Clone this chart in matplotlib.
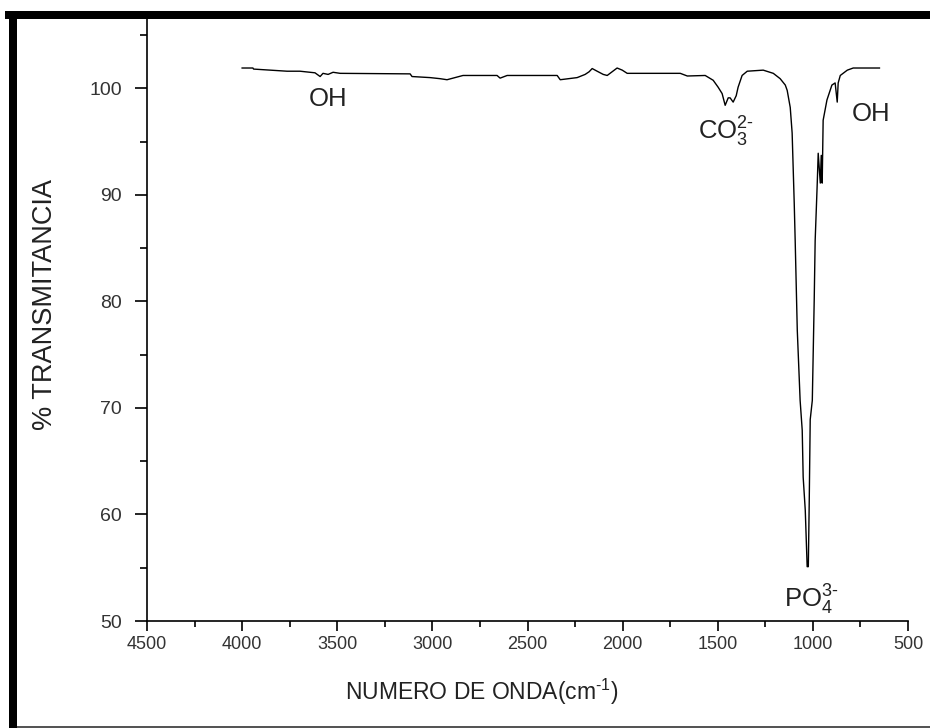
#importing libraries
import numpy as np
import matplotlib
matplotlib.use("Agg")
import matplotlib.pyplot as plt
from matplotlib.patches import Rectangle
from matplotlib.ticker import MultipleLocator

# spectrum (wavenumber cm-1, % transmittance)
wavenumber = [4000, 3943, 3940, 3764, 3696, 3617, 3590, 3575, 3548, 3522, 3485,
              3117, 3107, 3012, 2960, 2923, 2881, 2839, 2660, 2644, 2607, 2344,
              2328, 2239, 2197, 2176, 2160, 2134, 2102, 2081, 2055, 2029, 2002,
              1976, 1697, 1660, 1566, 1524, 1498, 1477, 1461, 1445, 1435, 1419,
              1403, 1393, 1372, 1345, 1261, 1208, 1172, 1145, 1135, 1119, 1109,
              1098, 1093, 1082, 1067, 1056, 1051, 1040, 1030, 1024, 1019, 1014,
              1003, 993, 988, 977, 972, 961, 956, 951, 946, 926, 900, 883, 872,
              867, 856, 819, 788, 650]
transmittance = [101.9, 101.9, 101.8, 101.6, 101.6, 101.45, 101.1, 101.4, 101.3, 101.5, 101.4,
                 101.35, 101.1, 101.0, 100.9, 100.8, 101.0, 101.2, 101.2, 100.95, 101.2, 101.2,
                 100.8, 101.0, 101.3, 101.55, 101.85, 101.6, 101.3, 101.2, 101.55, 101.9, 101.7,
                 101.4, 101.4, 101.15, 101.2, 100.75, 100.1, 99.5, 98.4, 99.1, 99.1, 98.7,
                 99.3, 100.1, 101.2, 101.6, 101.7, 101.4, 100.9, 100.3, 99.8, 98.2, 95.8,
                 89.2, 85.7, 77.3, 70.7, 67.9, 63.5, 60.4, 55.1, 55.1, 61.4, 68.9,
                 70.7, 80.1, 85.7, 91.1, 93.9, 91.1, 93.7, 91.1, 97.0, 98.9, 100.3, 100.5, 98.7,
                 100.5, 101.2, 101.7, 101.9, 101.9]

# band labels
band_text = ['OH', r'CO$_3^{2\text{-}}$', r'PO$_4^{3\text{-}}$', 'OH']
band_x = [3550, 1456, 1010, 693]
band_y = [99.0, 95.9, 52.0, 97.6]

xticks = [4500, 4000, 3500, 3000, 2500, 2000, 1500, 1000, 500]
yticks = [50, 60, 70, 80, 90, 100]

plt.rcParams['font.family'] = ['Liberation Sans', 'DejaVu Sans']
plt.rcParams['mathtext.fontset'] = 'custom'
plt.rcParams['mathtext.rm'] = 'Liberation Sans'
plt.rcParams['mathtext.it'] = 'Liberation Sans:italic'
plt.rcParams['mathtext.bf'] = 'Liberation Sans:bold'

fig = plt.figure(figsize=(9.3, 7.28), dpi=100)
ax = fig.add_axes([147/930, 1-621/728, (908-147)/930, (621-19)/728])

ax.plot(wavenumber, transmittance, color='black', lw=1.0)

for t, x, y in zip(band_text, band_x, band_y):
    ax.text(x, y, t, fontsize=18.5, ha='center', va='center', color='#222222')

ax.set_xlim(4500, 500)
ax.set_ylim(50, 106.5)
ax.set_xticks(xticks)
ax.set_yticks(yticks)
ax.xaxis.set_minor_locator(MultipleLocator(250))
ax.yaxis.set_minor_locator(MultipleLocator(5))
ax.tick_params(which='major', direction='out', width=1.2, colors='black')
ax.tick_params(which='minor', direction='out', width=1.2)
ax.tick_params(axis='x', which='major', length=7, pad=4, labelsize=13)
ax.tick_params(axis='x', which='minor', length=4)
ax.tick_params(axis='y', which='major', length=9, pad=9, labelsize=14)
ax.tick_params(axis='y', which='minor', length=5)
for lbl in ax.get_xticklabels() + ax.get_yticklabels():
    lbl.set_color('#333333')

ax.spines['top'].set_visible(False)
ax.spines['right'].set_visible(False)
ax.spines['left'].set_linewidth(1.2)
ax.spines['bottom'].set_linewidth(1.2)

ax.set_xlabel(r'NUMERO DE ONDA(cm$^{\text{-}1}$)', fontsize=16.5, color='#222222')
ax.set_ylabel('% TRANSMITANCIA', fontsize=19.5, color='#222222')
ax.xaxis.set_label_coords(0.44, -0.093)
ax.yaxis.set_label_coords(-0.117, 0.525)

# black frame around the picture
fig.patches.append(Rectangle((5/930, 1-19/728), 1, 8/728, transform=fig.transFigure,
                             facecolor='black', edgecolor='none', zorder=5))
fig.patches.append(Rectangle((9/930, 0), 8/930, 1-11/728, transform=fig.transFigure,
                             facecolor='black', edgecolor='none', zorder=5))
fig.patches.append(Rectangle((17/930, 0), 1, 2/728, transform=fig.transFigure,
                             facecolor='#555555', edgecolor='none', zorder=5))

fig.savefig('out.png', dpi=100)
